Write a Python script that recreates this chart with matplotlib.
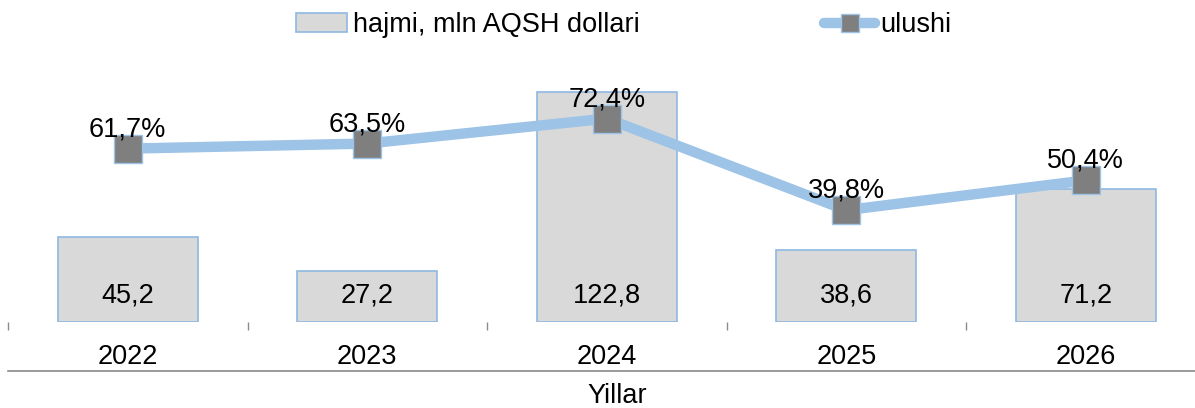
import matplotlib.pyplot as plt
from matplotlib.lines import Line2D
from matplotlib.patches import Patch

plt.rcParams['font.family'] = ['Liberation Sans', 'DejaVu Sans']

years = ['2022', '2023', '2024', '2025', '2026']
hajmi = [45.2, 27.2, 122.8, 38.6, 71.2]
ulushi = [61.7, 63.5, 72.4, 39.8, 50.4]

bar_col = '#D9D9D9'
blue = '#9DC3E6'
grey = '#7F7F7F'
fs = 19.5

def fmt(v):
    return f"{v:.1f}".replace('.', ',')

fig = plt.figure(figsize=(11.95, 4.08), dpi=100)
ax = fig.add_axes([8/1195, 86/408, 1197.5/1195, 281/408])
x = list(range(len(years)))

ax.bar(x, hajmi, width=0.585, color=bar_col, edgecolor='#8FB8E2', linewidth=1.2)
for xi, v in zip(x, hajmi):
    ax.text(xi, 14, fmt(v), ha='center', va='center', fontsize=fs)
ax.set_xlim(-0.5, 4.5)
ax.set_ylim(0, 150)
ax.set_yticks([])
ax.set_xticks(x)
ax.set_xticklabels(years, fontsize=fs)
ax.tick_params(axis='x', which='major', length=0, pad=16)
ax.set_xticks([i - 0.5 for i in range(len(years))], minor=True)
ax.tick_params(axis='x', which='minor', length=6, color='#8C8C8C', width=1)
for s in ax.spines.values():
    s.set_visible(False)

ax2 = ax.twinx()
ax2.plot(x, ulushi, color=blue, linewidth=7.5, marker='s', markersize=20,
         markerfacecolor=grey, markeredgecolor=blue, markeredgewidth=1,
         solid_capstyle='round')
for xi, v in zip(x, ulushi):
    ax2.annotate(fmt(v) + '%', (xi, v), xytext=(0, 14), textcoords='offset points',
                 ha='center', va='center', fontsize=fs)
ax2.set_ylim(0, 100)
ax2.set_yticks([])
for s in ax2.spines.values():
    s.set_visible(False)

# category axis line and title
fig.add_artist(Line2D([8/1195, 1], [37/408, 37/408], color='#898989', linewidth=1.2,
                      transform=fig.transFigure))
fig.text(617/1195, 12/408, 'Yillar', ha='center', va='center', fontsize=fs)

handles = [Patch(facecolor=bar_col, edgecolor='#8FB8E2', linewidth=1.2),
           Line2D([], [], color=blue, linewidth=7.5, marker='s', markersize=13,
                  markerfacecolor=grey, markeredgecolor=blue, solid_capstyle='round')]
fig.legend(handles, ['hajmi, mln AQSH dollari', 'ulushi'], ncol=2, frameon=False,
           loc='center left', bbox_to_anchor=(296/1195, 1 - 25/408), fontsize=fs,
           borderpad=0, borderaxespad=0, handlelength=1.9, handletextpad=0.2,
           columnspacing=6.8)

fig.savefig('out.png', dpi=100)
